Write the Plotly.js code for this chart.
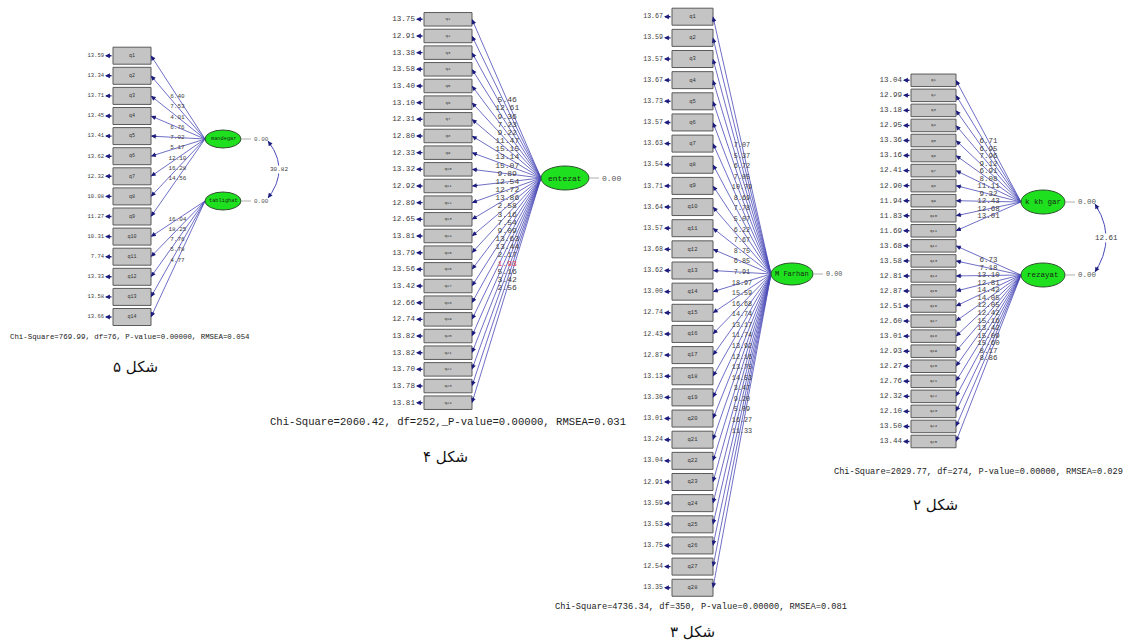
<!DOCTYPE html>
<html><head><meta charset="utf-8">
<script src="https://cdn.plot.ly/plotly-3.0.1.min.js"></script>
<style>html,body{margin:0;padding:0;background:#fff}</style>
</head><body><div id="chart" style="width:1129px;height:643px"></div>
<script>
// ---------- DATA ----------
// Figure 5
const fig5Items = ['q1','q2','q3','q4','q5','q6','q7','q8','q9','q10','q11','q12','q13','q14'];
const fig5Errors = [13.59,13.34,13.71,13.45,13.41,13.62,12.32,10.08,11.27,10.31,7.74,13.33,13.58,13.66];
const fig5Loadings = [6.40,7.53,4.01,6.76,7.02,5.17,12.10,16.28,14.56,16.04,18.25,7.76,5.78,4.77];
const fig5Factors = ['mandegar','tablighat'];
const fig5FactorSizes = [9,5];
const fig5Variances = [0.00,0.00];
const fig5Cov = 30.82;
const fig5Stats = 'Chi-Square=769.99, df=76, P-value=0.00000, RMSEA=0.054';
const fig5Caption = 'شکل ۵';

// Figure 4
const fig4Items = ['q1','q2','q3','q4','q5','q6','q7','q8','q9','q10','q11','q12','q13','q14','q15','q16','q17','q18','q19','q20','q21','q22','q23','q24'];
const fig4Errors = [13.75,12.91,13.38,13.58,13.40,13.10,12.31,12.80,12.33,13.32,12.92,12.89,12.65,13.81,13.79,13.56,13.42,12.66,12.74,13.82,13.82,13.70,13.78,13.81];
const fig4Loadings = [5.46,12.61,9.36,7.23,9.22,11.47,15.15,13.14,15.07,9.89,12.54,12.72,13.86,2.58,3.16,7.54,9.09,13.63,13.44,2.17,1.93,5.16,3.42,2.56];
const fig4Factors = ['entezat'];
const fig4FactorSizes = [24];
const fig4Variances = [0.00];
const fig4Stats = 'Chi-Square=2060.42, df=252,_P-value=0.00000, RMSEA=0.031';
const fig4Caption = 'شکل ۴';

// Figure 3
const fig3Items = ['q1','q2','q3','q4','q5','q6','q7','q8','q9','q10','q11','q12','q13','q14','q15','q16','q17','q18','q19','q20','q21','q22','q23','q24','q25','q26','q27','q28'];
const fig3Errors = [13.67,13.59,13.57,13.67,13.73,13.57,13.63,13.54,13.71,13.64,13.57,13.68,13.62,13.00,12.74,12.43,12.87,13.13,13.30,13.01,13.24,13.04,12.91,13.59,13.53,13.75,12.54,13.35];
const fig3Loadings = [7.07,5.37,6.72,7.05,10.79,8.69,7.78,5.07,6.22,7.67,8.75,6.85,7.91,18.97,15.59,16.68,14.74,13.17,11.74,13.92,12.16,13.75,14.53,3.47,9.20,5.09,16.27,11.33];
const fig3Factors = ['M Farhan'];
const fig3FactorSizes = [28];
const fig3Variances = [0.00];
const fig3Stats = 'Chi-Square=4736.34, df=350, P-value=0.00000, RMSEA=0.081';
const fig3Caption = 'شکل ۳';

// Figure 2
const fig2Items = ['q1','q2','q3','q4','q5','q6','q7','q8','q9','q10','q11','q12','q13','q14','q15','q16','q17','q18','q19','q20','q21','q22','q23','q24','q25'];
const fig2Errors = [13.04,12.99,13.18,12.95,13.36,13.16,12.41,12.90,11.94,11.83,11.69,13.68,13.58,12.81,12.87,12.51,12.60,13.01,12.93,12.27,12.76,12.32,12.10,13.50,13.44];
const fig2Loadings = [6.71,6.95,7.96,9.12,6.91,8.08,11.11,9.32,12.43,12.68,13.01,6.73,7.18,13.10,12.81,14.42,14.05,12.05,12.42,15.16,13.42,15.09,15.60,8.17,8.86];
const fig2Factors = ['k kh gar','rezayat'];
const fig2FactorSizes = [11,14];
const fig2Variances = [0.00,0.00];
const fig2Cov = 12.61;
const fig2Stats = 'Chi-Square=2029.77, df=274, P-value=0.00000, RMSEA=0.029';
const fig2Caption = 'شکل ۲';

// ---------- LAYOUT CONSTANTS ----------
const diagrams = [
 {items:fig5Items, errors:fig5Errors, loadings:fig5Loadings, factors:fig5Factors, sizes:fig5FactorSizes, vars:fig5Variances, cov:fig5Cov, stats:fig5Stats, caption:fig5Caption,
  g:{bx:113,bw:38,bh:17,y0:55.7,dy:20.1,ex:223,ey:[139,201],rx:18,ry:9,t:0.49,fErr:5.5,fLoad:6,fBox:5,fLat:5.3,fStat:7.4,statX:8,statY:337,capX:135,capY:367,arcX:268,arcB:11}},
 {items:fig4Items, errors:fig4Errors, loadings:fig4Loadings, factors:fig4Factors, sizes:fig4FactorSizes, vars:fig4Variances, cov:null, stats:fig4Stats, caption:fig4Caption,
  g:{bx:424,bw:48,bh:13.5,y0:19.3,dy:16.67,ex:565,ey:[178],rx:24,ry:12,t:0.51,fErr:7.6,fLoad:8,fBox:4,fLat:8,fStat:10.6,statX:268,statY:422,capX:445,capY:457}},
 {items:fig3Items, errors:fig3Errors, loadings:fig3Loadings, factors:fig3Factors, sizes:fig3FactorSizes, vars:fig3Variances, cov:null, stats:fig3Stats, caption:fig3Caption,
  g:{bx:672,bw:41,bh:17,y0:16.7,dy:21.15,ex:792,ey:[274],rx:21,ry:11,t:0.5,fErr:6.6,fLoad:6.8,fBox:5.5,fLat:7,fStat:8.7,statX:553,statY:607,capX:692,capY:632}},
 {items:fig2Items, errors:fig2Errors, loadings:fig2Loadings, factors:fig2Factors, sizes:fig2FactorSizes, vars:fig2Variances, cov:fig2Cov, stats:fig2Stats, caption:fig2Caption,
  g:{bx:911,bw:45,bh:12.5,y0:80.3,dy:15.05,ex:1043,ey:[202,275],rx:22,ry:12,t:0.5,fErr:7.5,fLoad:7.5,fBox:4,fLat:7.5,fStat:8.6,statX:832,statY:472,capX:935,capY:505,arcX:1095,arcB:11}}
];

const MONO = 'Liberation Mono, Courier New, monospace';
const HEAD = '#1c1c7c';
const LINE = '#4a4ab8';
const traces = [], shapes = [], annotations = [];

function arrow(hx, hy, tx, ty, w, s) {
  annotations.push({x:hx, y:hy, ax:tx, ay:ty, xref:'x', yref:'y', axref:'x', ayref:'y',
    text:'', showarrow:true, arrowhead:2, arrowsize:s||0.9, arrowwidth:w||1.1, arrowcolor:HEAD, standoff:0, startstandoff:0});
}

diagrams.forEach(d => {
  const g = d.g;
  const yc = d.items.map((_, i) => g.y0 + i * g.dy);
  const fac = [];
  d.sizes.forEach((s, k) => { for (let j = 0; j < s; j++) fac.push(k); });

  // boxes
  yc.forEach(y => shapes.push({type:'rect', xref:'x', yref:'y', x0:g.bx, x1:g.bx+g.bw, y0:y-g.bh/2, y1:y+g.bh/2,
    fillcolor:'#c4c4c4', line:{color:'#5a5a5a', width:1}, layer:'below'}));

  // loading lines
  const lx = [], ly = [], labX = [], labY = [], labT = [], labC = [];
  yc.forEach((y, i) => {
    const k = fac[i];
    const x1 = g.bx + g.bw, x2 = g.ex - g.rx, y2 = g.ey[k];
    lx.push(x2, x1, null); ly.push(y2, y, null);
    const len = Math.hypot(x2 - x1, y2 - y);
    arrow(x1, y, x1 + 7 * (x2 - x1) / len, y + 7 * (y2 - y) / len, 1.1, 0.85);
    labX.push(x1 + g.t * (x2 - x1)); labY.push(y + g.t * (y2 - y));
    labT.push(d.loadings[i].toFixed(2));
    labC.push(d.loadings[i] < 1.96 ? '#e03c3c' : '#404040');
  });
  traces.push({type:'scatter', mode:'lines', x:lx, y:ly, line:{color:LINE, width:0.8}, hoverinfo:'skip'});
  traces.push({type:'scatter', mode:'text', x:labX, y:labY, text:labT, textposition:'middle center',
    textfont:{family:MONO, size:g.fLoad, color:labC}, hoverinfo:'skip'});

  // error arrows + values
  yc.forEach(y => arrow(g.bx - 8, y, g.bx, y, 1.4, 0.7));
  traces.push({type:'scatter', mode:'text', x:yc.map(() => g.bx - 9), y:yc, text:d.errors.map(v => v.toFixed(2)),
    textposition:'middle left', textfont:{family:MONO, size:g.fErr, color:'#404040'}, hoverinfo:'skip'});

  // box labels
  traces.push({type:'scatter', mode:'text', x:yc.map(() => g.bx + g.bw/2), y:yc, text:d.items,
    textposition:'middle center', textfont:{family:MONO, size:g.fBox, color:'#333'}, hoverinfo:'skip'});

  // latent ellipses
  d.factors.forEach((f, k) => {
    const cy = g.ey[k];
    shapes.push({type:'circle', xref:'x', yref:'y', x0:g.ex-g.rx, x1:g.ex+g.rx, y0:cy-g.ry, y1:cy+g.ry,
      fillcolor:'#1ee01e', line:{color:'#2f4f2f', width:1}});
    shapes.push({type:'line', xref:'x', yref:'y', x0:g.ex+g.rx, x1:g.ex+g.rx+10, y0:cy, y1:cy,
      line:{color:'#b0b0b0', width:1}});
    annotations.push({x:g.ex, y:cy, xref:'x', yref:'y', text:f, showarrow:false,
      font:{family:MONO, size:g.fLat, color:'#1a2a1a'}});
    annotations.push({x:g.ex+g.rx+11, y:cy, xref:'x', yref:'y', text:d.vars[k].toFixed(2), showarrow:false,
      xanchor:'left', font:{family:MONO, size:g.fLoad, color:'#555'}});
  });

  // covariance arc
  if (d.cov !== null && d.factors.length === 2) {
    const p0 = [g.arcX, g.ey[0] + 2], p2 = [g.arcX, g.ey[1] - 3];
    const c = [g.arcX + 2 * g.arcB, (p0[1] + p2[1]) / 2];
    const ax = [], ay = [];
    for (let s = 0; s <= 40; s++) {
      const t = s / 40;
      ax.push((1-t)*(1-t)*p0[0] + 2*(1-t)*t*c[0] + t*t*p2[0]);
      ay.push((1-t)*(1-t)*p0[1] + 2*(1-t)*t*c[1] + t*t*p2[1]);
    }
    traces.push({type:'scatter', mode:'lines', x:ax, y:ay, line:{color:LINE, width:1}, hoverinfo:'skip'});
    arrow(p0[0], p0[1], ax[4], ay[4], 1.1, 0.85);
    arrow(p2[0], p2[1], ax[36], ay[36], 1.1, 0.85);
    annotations.push({x:ax[20], y:ay[20], xref:'x', yref:'y', text:d.cov.toFixed(2), showarrow:false,
      bgcolor:'#ffffff', borderpad:0, font:{family:MONO, size:g.fLoad, color:'#404040'}});
  }

  // stats and caption
  annotations.push({x:g.statX, y:g.statY, xref:'x', yref:'y', text:d.stats, showarrow:false, xanchor:'left',
    font:{family:MONO, size:g.fStat, color:'#222'}});
  annotations.push({x:g.capX, y:g.capY, xref:'x', yref:'y', text:d.caption, showarrow:false,
    font:{family:'DejaVu Sans, Noto Sans', size:15, color:'#111'}});
});

const layout = {
  width:1129, height:643, margin:{l:0, r:0, t:0, b:0},
  paper_bgcolor:'#ffffff', plot_bgcolor:'#ffffff', showlegend:false,
  xaxis:{range:[0,1129], visible:false, fixedrange:true},
  yaxis:{range:[643,0], visible:false, fixedrange:true},
  shapes:shapes, annotations:annotations
};
Plotly.newPlot('chart', traces, layout, {staticPlot:true, displayModeBar:false});
</script></body></html>
